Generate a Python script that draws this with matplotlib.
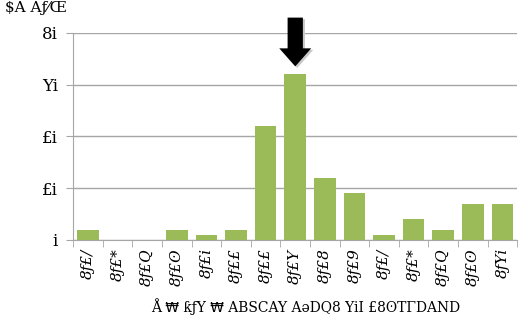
import matplotlib.pyplot as plt

# category labels (as they appear, font-mangled in the source)
labels = ['8ƒ£/', '8ƒ£*', '8ƒ£Q', '8ƒ£ʘ', '8ƒ£i', '8ƒ££', '8ƒ££', '8ƒ£Y',
          '8ƒ£8', '8ƒ£9', '8ƒ£/', '8ƒ£*', '8ƒ£Q', '8ƒ£ʘ', '8ƒYi']
values = [2, 0, 0, 2, 1, 2, 22, 32, 12, 9, 1, 4, 2, 7, 7]
ytick_vals = [0, 10, 20, 30, 40]
ytick_labels = ['i', '£i', '£i', 'Yi', '8i']
title = '$A Aƒ⁄Œ'
xlabel = 'Å ₩ ƙƒY ₩ ABSCAY AəDQ8 YiI £8ʘΤΓDAND'
peak = 7

plt.rcParams['font.family'] = ['DejaVu Serif', 'DejaVu Sans']

fig = plt.figure(figsize=(5.31, 3.23), dpi=100)
ax = fig.add_axes([0.138, 0.257, 0.836, 0.641])

x = list(range(len(values)))
ax.bar(x, values, width=0.73, color='#9bbb59', zorder=3)

ax.set_xlim(-0.5, len(values) - 0.5)
ax.set_ylim(0, 40)
ax.set_yticks(ytick_vals)
ax.set_yticklabels(ytick_labels, fontsize=12)
ax.yaxis.grid(True, color='#a6a6a6', linewidth=1)
ax.set_axisbelow(True)

ax.set_xticks(x)
ax.set_xticklabels(labels, rotation=90, fontsize=11, style='italic')
ax.set_xticks([i - 0.5 for i in range(len(values) + 1)], minor=True)
ax.tick_params(axis='x', which='major', length=0, pad=6)
ax.tick_params(axis='x', which='minor', length=5, color='#a6a6a6')
ax.tick_params(axis='y', length=5, color='#a6a6a6', pad=6)

for s in ['top', 'right']:
    ax.spines[s].set_visible(False)
for s in ['left', 'bottom']:
    ax.spines[s].set_color('#a6a6a6')

# arrow pointing at the peak bar (with a soft shadow)
style = 'simple,head_width=23,head_length=13,tail_width=11'
ax.annotate('', xy=(peak + 0.07, 32.7), xytext=(peak + 0.07, 43.2),
            annotation_clip=False,
            arrowprops=dict(arrowstyle=style, mutation_scale=1,
                            color='#c8c8c8', lw=0))
ax.annotate('', xy=(peak, 33.0), xytext=(peak, 43.5),
            annotation_clip=False,
            arrowprops=dict(arrowstyle=style, mutation_scale=1,
                            color='black', lw=0))

fig.text(0.01, 0.975, title, fontsize=11, va='center', ha='left')
fig.text(0.575, 0.05, xlabel, fontsize=10, ha='center', va='center')

fig.savefig('out.png', dpi=100)
